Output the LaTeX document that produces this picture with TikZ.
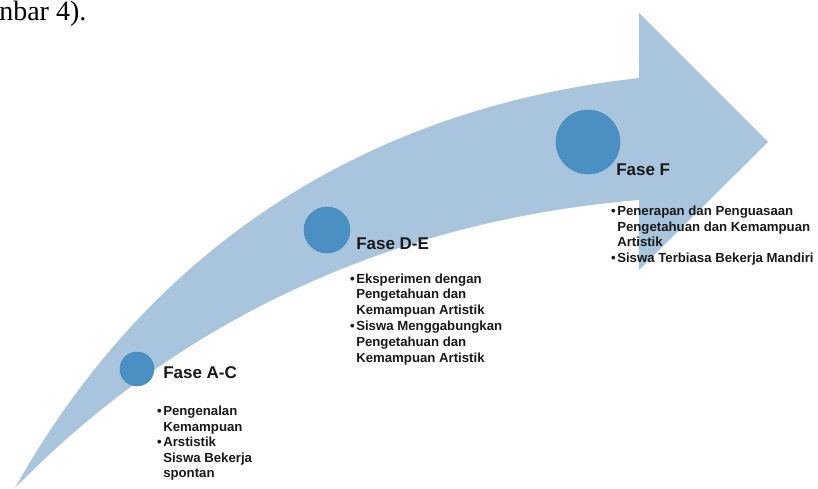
\documentclass[tikz,border=0pt]{standalone}
\usepackage{fontspec}
\setmainfont{Liberation Serif}
\setsansfont{Liberation Sans}
\usepackage{tikz}

\definecolor{bandblue}{RGB}{169,196,221}
\definecolor{dotblue}{RGB}{74,144,194}
\definecolor{dotedge}{RGB}{70,138,188}
\tikzset{
  fasedot/.style={circle,fill=dotblue,draw=dotedge,line width=0.4pt,inner sep=0pt},
  fasehead/.style={anchor=base west,inner sep=0pt,text=black!90,font=\sffamily\bfseries\fontsize{12.75}{15}\selectfont},
  faseitem/.style={anchor=base west,inner sep=0pt,text=black!90,font=\sffamily\bfseries\fontsize{9.9}{11.7}\selectfont},
}
\newcommand{\itemdot}{\llap{\textbullet\hspace{1.2pt}}}

\begin{document}
\begin{tikzpicture}[x=0.75pt,y=0.75pt,yscale=-1,xscale=1]
        \useasboundingbox (0,0) rectangle (818,489);
        % curved arrow
        \fill [bandblue] (15,488) .. controls (120,300) and (310,115) .. (639,78) -- (639,13) -- (768,142) -- (639,270) -- (639,200) .. controls (340,225) and (140,360) .. (15,488) -- cycle ;

        \node [fasedot,minimum size=25.5pt] (dotAC) at (137,369) {};
        \node [fasedot,minimum size=34.5pt] (dotDE) at (327,230) {};
        \node [fasedot,minimum size=48pt] (dotF) at (588,142) {};

        \node [anchor=base west,inner sep=0pt,font=\fontsize{21}{22}\selectfont] (capfrag) at (-1,21) {nbar 4).};

        \node [fasehead] (headAC) at (163,378) {Fase A-C};
        \node [faseitem] (itemAC1) at (163,415) {\itemdot Pengenalan};
        \node [faseitem] (itemAC2) at (163,431) {Kemampuan};
        \node [faseitem] (itemAC3) at (163,446) {\itemdot Arstistik};
        \node [faseitem] (itemAC4) at (163,462) {Siswa Bekerja};
        \node [faseitem] (itemAC5) at (163,477) {spontan};

        \node [fasehead] (headDE) at (356,249) {Fase D-E};
        \node [faseitem] (itemDE1) at (356,283) {\itemdot Eksperimen dengan};
        \node [faseitem] (itemDE2) at (356,298) {Pengetahuan dan};
        \node [faseitem] (itemDE3) at (356,314) {Kemampuan Artistik};
        \node [faseitem] (itemDE4) at (356,330) {\itemdot Siswa Menggabungkan};
        \node [faseitem] (itemDE5) at (356,346) {Pengetahuan dan};
        \node [faseitem] (itemDE6) at (356,362) {Kemampuan Artistik};

        \node [fasehead] (headF) at (616,175) {Fase F};
        \node [faseitem] (itemF1) at (617,215) {\itemdot Penerapan dan Penguasaan};
        \node [faseitem] (itemF2) at (617,231) {Pengetahuan dan Kemampuan};
        \node [faseitem] (itemF3) at (617,246) {Artistik};
        \node [faseitem] (itemF4) at (617,262) {\itemdot Siswa Terbiasa Bekerja Mandiri};
    \end{tikzpicture}
\end{document}
